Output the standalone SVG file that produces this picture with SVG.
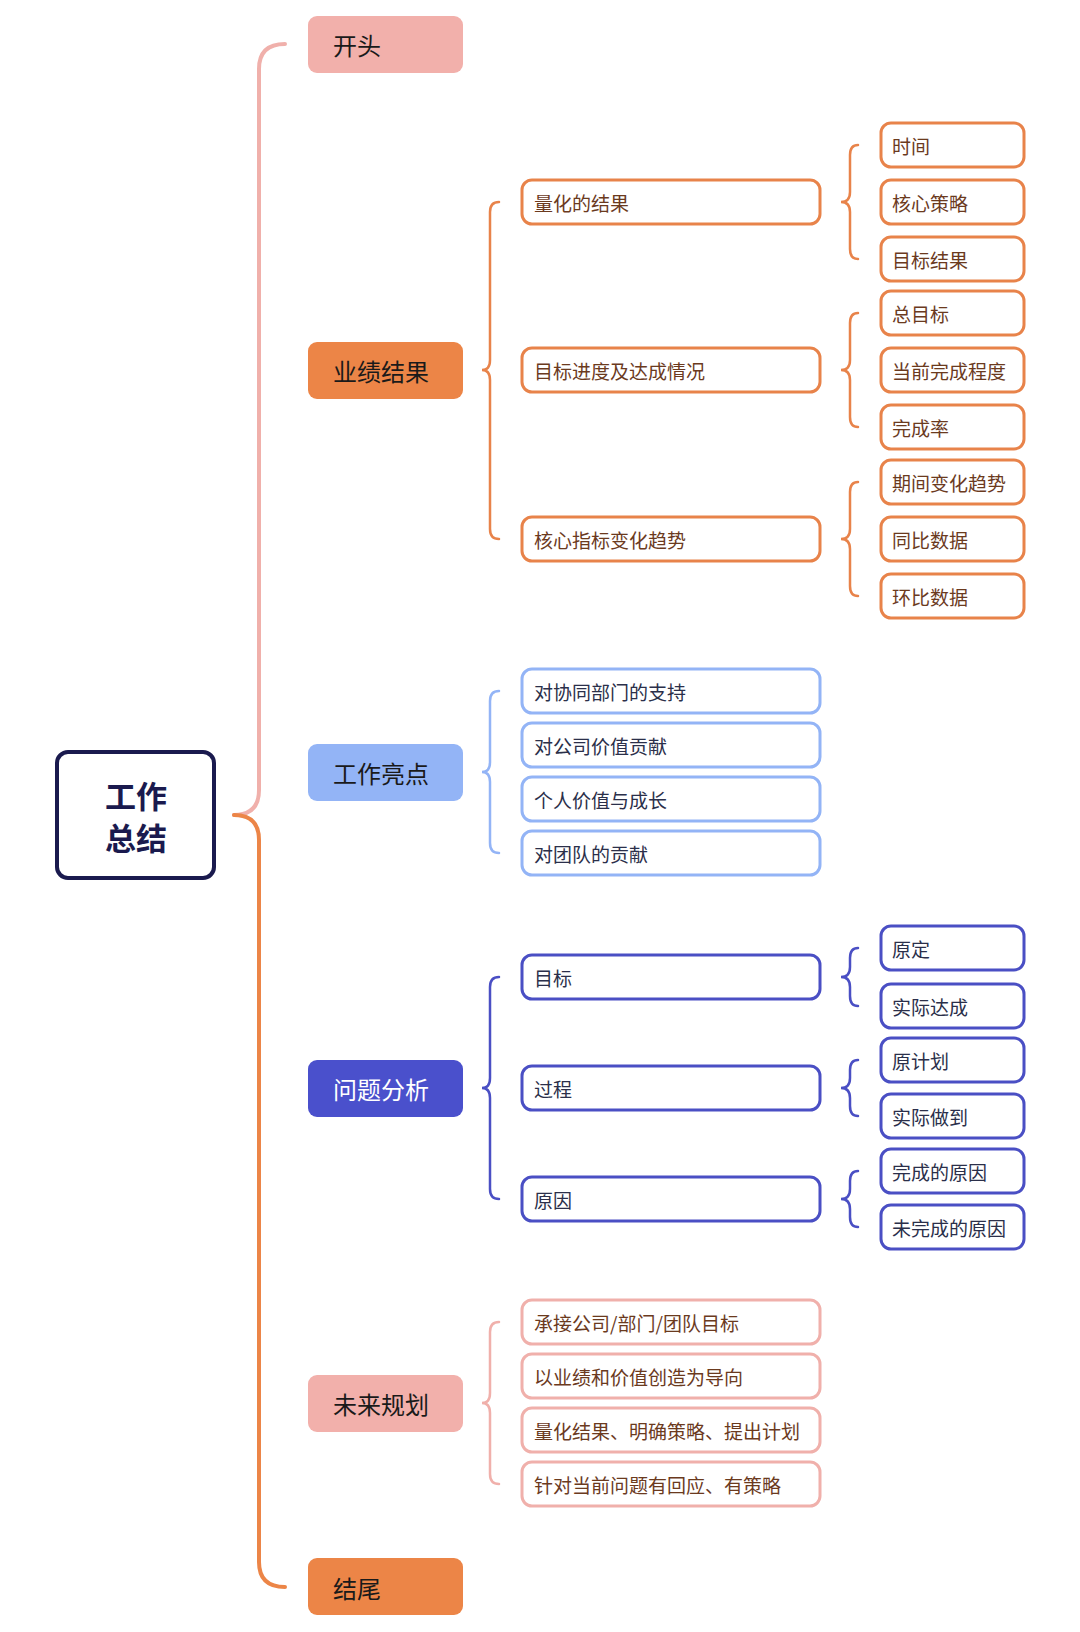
<svg xmlns="http://www.w3.org/2000/svg" width="1080" height="1632" viewBox="0 0 1080 1632">
<style>
text{font-family:"Noto Sans CJK SC","Noto Sans",sans-serif;dominant-baseline:central}
.l1 rect{stroke:none}
.l1 text{font-size:24px;fill:#1a1a1a}
.b{fill:#fff;stroke-width:3}
.t{font-size:19px}
.o .b{stroke:#e8834a}.o text{fill:#6b3a1e}
.u .b{stroke:#93b4f6}.u text{fill:#2b2f4a}
.n .b{stroke:#4a4fc4}.n text{fill:#2b2f4a}
.p .b{stroke:#f0b0ab}.p text{fill:#6b3a1e}
.c{fill:none;stroke-linecap:round}
</style>
<rect width="1080" height="1632" fill="#fff"/>
<g id="connectors">
<path class="c" stroke="#f0b0ab" stroke-width="4" d="M234 815 Q259 815 259 790 L259 69 Q259 44 285 44"/>
<path class="c" stroke="#ec8547" stroke-width="4" d="M234 815 Q259 815 259 840 L259 1562 Q259 1587 285 1587"/>
<path class="c" stroke="#e8834a" stroke-width="2.5" d="M499 202 Q490 202 490 212 L490 360 Q490 370 482 370 Q490 370 490 380 L490 529 Q490 539 499 539"/>
<path class="c" stroke="#93b4f6" stroke-width="2.5" d="M499 691 Q490 691 490 701 L490 762 Q490 772 482 772 Q490 772 490 782 L490 843 Q490 853 499 853"/>
<path class="c" stroke="#4a4fc4" stroke-width="2.5" d="M499 977 Q490 977 490 987 L490 1078 Q490 1088 482 1088 Q490 1088 490 1098 L490 1189 Q490 1199 499 1199"/>
<path class="c" stroke="#f0b0ab" stroke-width="2.5" d="M499 1322 Q490 1322 490 1332 L490 1393 Q490 1403 482 1403 Q490 1403 490 1413 L490 1474 Q490 1484 499 1484"/>
<g stroke="#e8834a" stroke-width="2.5" class="c">
<path d="M858 145 Q850 145 850 155 L850 192 Q850 202 841 202 Q850 202 850 212 L850 249 Q850 259 858 259"/>
<path d="M858 313 Q850 313 850 323 L850 360 Q850 370 841 370 Q850 370 850 380 L850 417 Q850 427 858 427"/>
<path d="M858 482 Q850 482 850 492 L850 529 Q850 539 841 539 Q850 539 850 549 L850 586 Q850 596 858 596"/>
</g>
<g stroke="#4a4fc4" stroke-width="2.5" class="c">
<path d="M858 948 Q850 948 850 958 L850 967 Q850 977 841 977 Q850 977 850 987 L850 996 Q850 1006 858 1006"/>
<path d="M858 1060 Q850 1060 850 1070 L850 1078 Q850 1088 841 1088 Q850 1088 850 1098 L850 1106 Q850 1116 858 1116"/>
<path d="M858 1171 Q850 1171 850 1181 L850 1189 Q850 1199 841 1199 Q850 1199 850 1209 L850 1217 Q850 1227 858 1227"/>
</g>
</g>
<g id="root"><rect x="57" y="752" width="157" height="126" rx="11" fill="#fff" stroke="#1a1a4e" stroke-width="4"/>
<text x="136" y="794" text-anchor="middle" font-size="31" font-weight="bold" fill="#1a1a4e">工作</text>
<text x="136" y="836" text-anchor="middle" font-size="31" font-weight="bold" fill="#1a1a4e">总结</text></g>
<g class="l1">
<g id="n-kaitou"><rect x="308" y="16" width="155" height="57" rx="9" fill="#f2b0ab"/><text x="333" y="44">开头</text></g>
<g id="n-yeji"><rect x="308" y="342" width="155" height="57" rx="9" fill="#ec8547"/><text x="333" y="370">业绩结果</text></g>
<g id="n-liangdian"><rect x="308" y="744" width="155" height="57" rx="9" fill="#93b4f6"/><text x="333" y="772">工作亮点</text></g>
<g id="n-wenti"><rect x="308" y="1060" width="155" height="57" rx="9" fill="#4a50cc"/><text x="333" y="1088" style="fill:#fff">问题分析</text></g>
<g id="n-guihua"><rect x="308" y="1375" width="155" height="57" rx="9" fill="#f2b0ab"/><text x="333" y="1403">未来规划</text></g>
<g id="n-jiewei"><rect x="308" y="1558" width="155" height="57" rx="9" fill="#ec8547"/><text x="333" y="1587">结尾</text></g>
</g>
<g class="o">
<g id="a1"><rect class="b" x="522" y="180" width="298" height="44" rx="10"/><text class="t" x="534" y="202">量化的结果</text></g>
<g id="a2"><rect class="b" x="522" y="348" width="298" height="44" rx="10"/><text class="t" x="534" y="370">目标进度及达成情况</text></g>
<g id="a3"><rect class="b" x="522" y="517" width="298" height="44" rx="10"/><text class="t" x="534" y="539">核心指标变化趋势</text></g>
<g id="a11"><rect class="b" x="881" y="123" width="143" height="44" rx="10"/><text class="t" x="892" y="145">时间</text></g>
<g id="a12"><rect class="b" x="881" y="180" width="143" height="44" rx="10"/><text class="t" x="892" y="202">核心策略</text></g>
<g id="a13"><rect class="b" x="881" y="237" width="143" height="44" rx="10"/><text class="t" x="892" y="259">目标结果</text></g>
<g id="a21"><rect class="b" x="881" y="291" width="143" height="44" rx="10"/><text class="t" x="892" y="313">总目标</text></g>
<g id="a22"><rect class="b" x="881" y="348" width="143" height="44" rx="10"/><text class="t" x="892" y="370">当前完成程度</text></g>
<g id="a23"><rect class="b" x="881" y="405" width="143" height="44" rx="10"/><text class="t" x="892" y="427">完成率</text></g>
<g id="a31"><rect class="b" x="881" y="460" width="143" height="44" rx="10"/><text class="t" x="892" y="482">期间变化趋势</text></g>
<g id="a32"><rect class="b" x="881" y="517" width="143" height="44" rx="10"/><text class="t" x="892" y="539">同比数据</text></g>
<g id="a33"><rect class="b" x="881" y="574" width="143" height="44" rx="10"/><text class="t" x="892" y="596">环比数据</text></g>
</g>
<g class="u">
<g id="b1"><rect class="b" x="522" y="669" width="298" height="44" rx="10"/><text class="t" x="534" y="691">对协同部门的支持</text></g>
<g id="b2"><rect class="b" x="522" y="723" width="298" height="44" rx="10"/><text class="t" x="534" y="745">对公司价值贡献</text></g>
<g id="b3"><rect class="b" x="522" y="777" width="298" height="44" rx="10"/><text class="t" x="534" y="799">个人价值与成长</text></g>
<g id="b4"><rect class="b" x="522" y="831" width="298" height="44" rx="10"/><text class="t" x="534" y="853">对团队的贡献</text></g>
</g>
<g class="n">
<g id="c1"><rect class="b" x="522" y="955" width="298" height="44" rx="10"/><text class="t" x="534" y="977">目标</text></g>
<g id="c2"><rect class="b" x="522" y="1066" width="298" height="44" rx="10"/><text class="t" x="534" y="1088">过程</text></g>
<g id="c3"><rect class="b" x="522" y="1177" width="298" height="44" rx="10"/><text class="t" x="534" y="1199">原因</text></g>
<g id="c11"><rect class="b" x="881" y="926" width="143" height="44" rx="10"/><text class="t" x="892" y="948">原定</text></g>
<g id="c12"><rect class="b" x="881" y="984" width="143" height="44" rx="10"/><text class="t" x="892" y="1006">实际达成</text></g>
<g id="c21"><rect class="b" x="881" y="1038" width="143" height="44" rx="10"/><text class="t" x="892" y="1060">原计划</text></g>
<g id="c22"><rect class="b" x="881" y="1094" width="143" height="44" rx="10"/><text class="t" x="892" y="1116">实际做到</text></g>
<g id="c31"><rect class="b" x="881" y="1149" width="143" height="44" rx="10"/><text class="t" x="892" y="1171">完成的原因</text></g>
<g id="c32"><rect class="b" x="881" y="1205" width="143" height="44" rx="10"/><text class="t" x="892" y="1227">未完成的原因</text></g>
</g>
<g class="p">
<g id="d1"><rect class="b" x="522" y="1300" width="298" height="44" rx="10"/><text class="t" x="534" y="1322">承接公司/部门/团队目标</text></g>
<g id="d2"><rect class="b" x="522" y="1354" width="298" height="44" rx="10"/><text class="t" x="534" y="1376">以业绩和价值创造为导向</text></g>
<g id="d3"><rect class="b" x="522" y="1408" width="298" height="44" rx="10"/><text class="t" x="534" y="1430">量化结果、明确策略、提出计划</text></g>
<g id="d4"><rect class="b" x="522" y="1462" width="298" height="44" rx="10"/><text class="t" x="534" y="1484">针对当前问题有回应、有策略</text></g>
</g>
</svg>
